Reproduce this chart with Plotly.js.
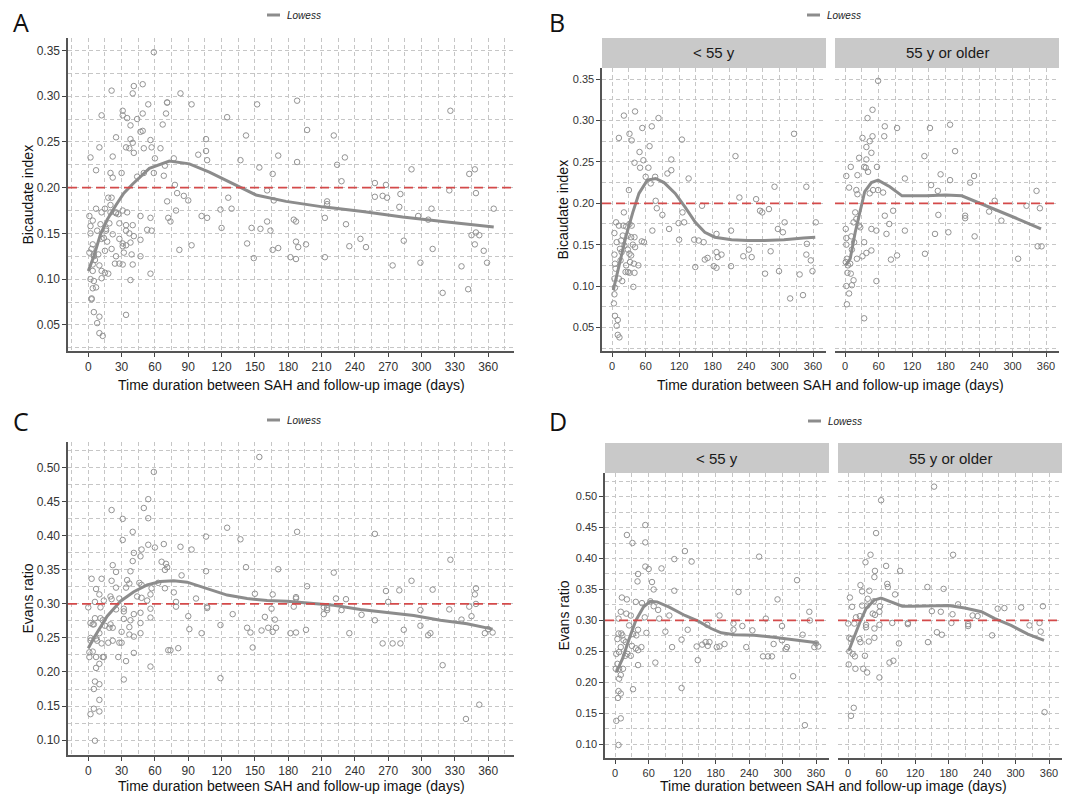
<!DOCTYPE html>
<html><head><meta charset="utf-8">
<script src="https://cdn.plot.ly/plotly-3.0.1.min.js"></script>
<style>html,body{margin:0;padding:0;background:#fff}#chart{width:1072px;height:798px}</style>
</head><body><div id="chart"></div>
<script>
// ---------- DATA ----------
// Bicaudate index, patients < 55 y
const bicYoungDays = [21,41,12,31,35,83,54,71,125,326,49,67,56,40,50,65,106,99,106,60,77,137,221,30,69,291,348,78,80,90,21,126,161,228,258,265,269,281,297,306,309,365,119,129,102,72,120,147,155,164,187,213,349,149,166,171,187,189,196,182,187,213,235,245,250,274,284,299,348,356,359,336,319,342,
7,12,4,8,4,5,6,4,5,4,3,5,10,8,10,13,20,19,16,14,22,25,31,28,34,35,40,37,41,28,31,34,32,39,28,31,40,47,18,38,53,57,15,17,25,24,12];
const bicYoungVals = [.306,.311,.279,.284,.276,.303,.291,.293,.277,.284,.262,.269,.252,.249,.243,.243,.253,.236,.240,.232,.232,.230,.257,.216,.224,.220,.220,.203,.194,.186,.189,.189,.197,.207,.205,.191,.189,.193,.169,.165,.177,.177,.176,.177,.169,.167,.156,.156,.155,.153,.163,.167,.151,.123,.132,.134,.141,.135,.138,.124,.122,.124,.136,.144,.135,.115,.142,.118,.138,.131,.118,.114,.085,.089,
.177,.173,.164,.153,.138,.127,.121,.109,.098,.090,.079,.064,.059,.052,.041,.038,.173,.161,.155,.145,.149,.172,.175,.161,.159,.173,.159,.150,.147,.144,.139,.137,.129,.127,.117,.116,.116,.125,.106,.099,.154,.153,.131,.141,.125,.117,.109];
// Bicaudate index, patients 55 y or older
const bicOldDays = [59,49,40,31,49,71,70,93,152,188,44,38,47,38,25,34,37,41,10,2,22,57,142,197,107,171,154,188,166,231,224,7,20,22,50,59,68,44,343,268,325,349,18,15,20,25,27,71,86,79,74,47,56,107,167,161,185,215,215,232,258,280,345,352,1,2,11,16,2,12,34,47,38,31,21,1,5,9,3,4,10,15,12,7,2,3,34,56,82,93,143,310];
const bicOldVals = [.348,.313,.303,.279,.281,.293,.281,.291,.291,.295,.275,.268,.261,.253,.255,.244,.243,.238,.244,.233,.234,.244,.257,.263,.230,.235,.222,.228,.215,.233,.225,.219,.216,.211,.216,.216,.213,.212,.215,.203,.197,.194,.189,.177,.181,.173,.171,.185,.191,.175,.163,.169,.167,.167,.186,.163,.165,.185,.182,.160,.190,.179,.148,.148,.169,.158,.160,.153,.150,.144,.153,.143,.140,.136,.133,.129,.125,.127,.133,.116,.115,.107,.101,.091,.100,.078,.061,.106,.132,.137,.139,.133];
// Evans ratio, patients < 55 y
const evYoungDays = [54,21,31,54,125,106,137,258,54,60,83,41,40,66,69,326,106,221,291,12,21,37,48,63,69,77,53,10,20,28,97,79,187,348,349,270,6,25,41,32,38,56,90,130,165,212,212,228,246,299,336,6,11,15,10,2,7,30,37,41,28,18,47,102,119,146,156,162,169,166,182,187,196,235,284,299,306,308,265,274,281,357,364,360,148,72,41,4,7,10,7,14,319,32,6,10,5,119,2,10,6,340,4,13,19,22,1];
const evYoungVals = [.454,.438,.425,.426,.412,.399,.395,.403,.387,.383,.384,.375,.363,.362,.350,.365,.348,.346,.334,.337,.334,.330,.328,.331,.323,.317,.305,.314,.311,.308,.308,.303,.308,.314,.300,.303,.303,.292,.285,.278,.276,.280,.282,.285,.293,.295,.285,.291,.284,.291,.277,.279,.279,.268,.257,.246,.249,.259,.255,.252,.243,.243,.257,.257,.269,.258,.261,.265,.265,.259,.257,.258,.262,.257,.262,.268,.254,.257,.242,.242,.242,.257,.258,.263,.236,.232,.228,.230,.222,.212,.206,.222,.210,.189,.186,.182,.175,.191,.138,.142,.099,.131,.270,.276,.265,.246,.222];
// Evans ratio, patients 55 y or older
const evOldDays = [154,59,50,40,188,31,68,48,47,93,22,70,71,142,171,25,38,3,35,46,84,7,25,34,57,150,166,197,268,280,310,349,14,21,0,11,44,48,56,79,107,107,185,187,215,215,223,232,325,343,345,258,2,5,20,22,32,32,47,47,56,37,91,143,159,168,2,8,12,30,1,13,27,34,74,81,56,10,5,352];
const evOldVals = [.516,.494,.441,.406,.406,.394,.388,.380,.370,.380,.357,.359,.354,.354,.351,.347,.348,.337,.335,.331,.342,.322,.324,.324,.323,.315,.314,.326,.319,.320,.321,.323,.305,.307,.295,.295,.311,.309,.314,.296,.296,.294,.296,.310,.294,.291,.308,.307,.292,.296,.282,.276,.272,.270,.270,.265,.289,.293,.287,.272,.293,.266,.263,.265,.281,.277,.250,.246,.242,.243,.229,.222,.222,.216,.232,.235,.208,.159,.146,.152];

// Lowess curves
const lowBicAllDays = [0,5,11,17,25,32,40,55,73,91,109,133,151,178,211,247,283,319,365];
const lowBicAllVals = [0.109,0.125,0.149,0.165,0.181,0.194,0.204,0.221,0.229,0.226,0.217,0.203,0.192,0.185,0.179,0.174,0.168,0.163,0.157];
const lowBicYoungDays = [2,13,25,37,48,63,78,93,113,131,149,166,184,214,243,273,308,343,364];
const lowBicYoungVals = [0.095,0.125,0.161,0.189,0.212,0.228,0.230,0.225,0.212,0.195,0.177,0.165,0.159,0.156,0.155,0.155,0.156,0.158,0.159];
const lowBicOldDays = [1,9,18,27,35,47,59,80,102,145,180,209,239,274,310,351];
const lowBicOldVals = [0.125,0.133,0.165,0.193,0.214,0.225,0.228,0.220,0.209,0.209,0.210,0.209,0.201,0.191,0.181,0.169];
const lowEvAllDays = [0,5,17,29,41,53,65,77,89,107,125,143,161,179,197,221,245,269,293,317,341,364];
const lowEvAllVals = [0.235,0.250,0.282,0.304,0.318,0.328,0.333,0.334,0.332,0.323,0.313,0.308,0.305,0.304,0.301,0.298,0.292,0.288,0.283,0.276,0.271,0.263];
const lowEvYoungDays = [2,13,25,37,51,63,75,96,125,149,172,190,214,249,284,320,355,363];
const lowEvYoungVals = [0.216,0.238,0.270,0.300,0.322,0.331,0.330,0.322,0.308,0.299,0.287,0.280,0.277,0.276,0.273,0.269,0.265,0.263];
const lowEvOldDays = [1,9,21,32,47,59,77,97,115,145,180,209,239,263,292,322,351];
const lowEvOldVals = [0.251,0.270,0.297,0.319,0.333,0.336,0.330,0.323,0.323,0.324,0.324,0.320,0.314,0.303,0.292,0.278,0.268];

// reference thresholds
const bicThreshold = 0.2;
const evThreshold = 0.3;

// ticks and labels
const xTicksWide = [0,30,60,90,120,150,180,210,240,270,300,330,360];
const xTicksFacet = [0,60,120,180,240,300,360];
const yTicksBic = [0.05,0.10,0.15,0.20,0.25,0.30,0.35];
const yTicksEv = [0.10,0.15,0.20,0.25,0.30,0.35,0.40,0.45,0.50];
const facetLabels = ['< 55 y', '55 y or older'];
const panelLetters = ['A','B','C','D'];
const xTitle = 'Time duration between SAH and follow-up image (days)';
const yTitleBic = 'Bicaudate index';
const yTitleEv = 'Evans ratio';
const legendLabel = 'Lowess';

// ---------- STYLE / LAYOUT ----------
const W = 1072, H = 798;
const px = v => v / W;
const py = v => 1 - v / H;
const FONT = 'Liberation Sans, Arial, sans-serif';
const GRID = '#c6c6c6', GDASH = '4px,3px';
const xRange = [-18.25, 383.25];
const yRangeBic = [0.0215, 0.3635];
const yRangeEv = [0.078, 0.538];

function xAxis(dom, anchor, ticks, minorStep, fsize) {
  return {
    domain: [px(dom[0]), px(dom[1])], anchor: anchor, range: xRange,
    tickmode: 'array', tickvals: ticks, ticktext: ticks.map(String),
    ticks: 'outside', ticklen: 4, tickcolor: '#444', tickwidth: 1,
    showline: true, linecolor: '#555', linewidth: 1.6,
    showgrid: true, gridcolor: GRID, griddash: GDASH, gridwidth: 1, zeroline: false,
    minor: {tickmode: 'linear', tick0: 0, dtick: minorStep, showgrid: true, gridcolor: GRID, griddash: GDASH, gridwidth: 1, ticks: ''},
    tickfont: {family: FONT, size: fsize, color: '#333'}, fixedrange: true
  };
}
function yAxis(dom, anchor, ticks, range, showAxis, fsize) {
  return {
    domain: [py(dom[1]), py(dom[0])], anchor: anchor, range: range,
    tickmode: 'array', tickvals: ticks, ticktext: ticks.map(v => v.toFixed(2)),
    ticks: showAxis ? 'outside' : '', ticklen: 4, tickcolor: '#444', tickwidth: 1,
    showticklabels: showAxis,
    showline: showAxis, linecolor: '#555', linewidth: 1.6,
    showgrid: true, gridcolor: GRID, griddash: GDASH, gridwidth: 1, zeroline: false,
    minor: {tickmode: 'linear', tick0: 0, dtick: 0.025, showgrid: true, gridcolor: GRID, griddash: GDASH, gridwidth: 1, ticks: ''},
    tickfont: {family: FONT, size: fsize, color: '#333'}, fixedrange: true
  };
}

const pts = (x, y, ax) => ({
  type: 'scatter', mode: 'markers', x: x, y: y, xaxis: 'x' + ax, yaxis: 'y' + ax,
  marker: {symbol: 'circle-open', size: 5.5, color: '#939393', line: {width: 1, color: '#939393'}},
  showlegend: false, hoverinfo: 'skip'
});
const low = (x, y, ax) => ({
  type: 'scatter', mode: 'lines', x: x, y: y, xaxis: 'x' + ax, yaxis: 'y' + ax,
  line: {color: '#8c8c8c', width: 3}, showlegend: false, hoverinfo: 'skip'
});

const data = [
  pts(bicYoungDays.concat(bicOldDays), bicYoungVals.concat(bicOldVals), ''), low(lowBicAllDays, lowBicAllVals, ''),
  pts(bicYoungDays, bicYoungVals, '2'), low(lowBicYoungDays, lowBicYoungVals, '2'),
  pts(bicOldDays, bicOldVals, '3'), low(lowBicOldDays, lowBicOldVals, '3'),
  pts(evYoungDays.concat(evOldDays), evYoungVals.concat(evOldVals), '4'), low(lowEvAllDays, lowEvAllVals, '4'),
  pts(evYoungDays, evYoungVals, '5'), low(lowEvYoungDays, lowEvYoungVals, '5'),
  pts(evOldDays, evOldVals, '6'), low(lowEvOldDays, lowEvOldVals, '6')
];

// panel geometry in pixels
const A = {x: [68, 514], y: [38, 351]};
const BL = {x: [602, 826], y: [68, 351]}, BR = {x: [835, 1059], y: [68, 351]};
const C = {x: [68, 514], y: [442, 755]};
const DL = {x: [605, 829], y: [473, 758]}, DR = {x: [838, 1062], y: [473, 758]};
const stripB = [38, 68], stripD = [443, 473];

const layout = {
  width: W, height: H, margin: {l: 0, r: 0, t: 0, b: 0},
  paper_bgcolor: '#fff', plot_bgcolor: '#fff', showlegend: false,
  font: {family: FONT, color: '#222'},
  xaxis: xAxis(A.x, 'y', xTicksWide, 15, 12), yaxis: yAxis(A.y, 'x', yTicksBic, yRangeBic, true, 12),
  xaxis2: xAxis(BL.x, 'y2', xTicksFacet, 30, 11), yaxis2: yAxis(BL.y, 'x2', yTicksBic, yRangeBic, true, 11),
  xaxis3: xAxis(BR.x, 'y3', xTicksFacet, 30, 11), yaxis3: yAxis(BR.y, 'x3', yTicksBic, yRangeBic, false, 11),
  xaxis4: xAxis(C.x, 'y4', xTicksWide, 15, 12), yaxis4: yAxis(C.y, 'x4', yTicksEv, yRangeEv, true, 12),
  xaxis5: xAxis(DL.x, 'y5', xTicksFacet, 30, 11), yaxis5: yAxis(DL.y, 'x5', yTicksEv, yRangeEv, true, 11),
  xaxis6: xAxis(DR.x, 'y6', xTicksFacet, 30, 11), yaxis6: yAxis(DR.y, 'x6', yTicksEv, yRangeEv, false, 11),
  shapes: [], annotations: []
};

// threshold lines
[['', bicThreshold], ['2', bicThreshold], ['3', bicThreshold], ['4', evThreshold], ['5', evThreshold], ['6', evThreshold]].forEach(([ax, v]) => {
  layout.shapes.push({type: 'line', layer: 'above', xref: 'x' + ax + ' domain', yref: 'y' + ax, x0: 0, x1: 1, y0: v, y1: v,
    line: {color: '#d44a4a', width: 1.7, dash: '9px,5px'}});
});

// facet strips
[[BL.x, stripB, facetLabels[0]], [BR.x, stripB, facetLabels[1]], [DL.x, stripD, facetLabels[0]], [DR.x, stripD, facetLabels[1]]].forEach(([xs, ys, lab]) => {
  layout.shapes.push({type: 'rect', xref: 'paper', yref: 'paper', x0: px(xs[0]), x1: px(xs[1]), y0: py(ys[1]), y1: py(ys[0]),
    fillcolor: '#c9c9c9', line: {width: 0}, layer: 'below'});
  layout.annotations.push({xref: 'paper', yref: 'paper', x: px((xs[0] + xs[1]) / 2), y: py((ys[0] + ys[1]) / 2),
    text: lab, showarrow: false, xanchor: 'center', yanchor: 'middle', font: {family: FONT, size: 15, color: '#1a1a1a'}});
});

// axis titles
function addTitles(x0, x1, yTop, yBot, ylab, ytitleX, xtitleY) {
  layout.annotations.push({xref: 'paper', yref: 'paper', x: px((x0 + x1) / 2), y: py(xtitleY), text: xTitle, showarrow: false,
    xanchor: 'center', yanchor: 'middle', font: {family: FONT, size: 14, color: '#111'}});
  layout.annotations.push({xref: 'paper', yref: 'paper', x: px(ytitleX), y: py((yTop + yBot) / 2), text: ylab, showarrow: false,
    textangle: -90, xanchor: 'center', yanchor: 'middle', font: {family: FONT, size: 14, color: '#111'}});
}
addTitles(A.x[0], A.x[1], A.y[0], A.y[1], yTitleBic, 27, 385);
addTitles(BL.x[0], BR.x[1], BL.y[0], BL.y[1], yTitleBic, 563, 385);
addTitles(C.x[0], C.x[1], C.y[0], C.y[1], yTitleEv, 27, 786);
addTitles(DL.x[0], DR.x[1], DL.y[0], DL.y[1], yTitleEv, 563, 786);

// legends (Lowess) and panel letters
[[267, 15], [807, 15], [267, 420], [808, 421]].forEach(([lx, ly]) => {
  layout.shapes.push({type: 'line', xref: 'paper', yref: 'paper', x0: px(lx), x1: px(lx + 13), y0: py(ly), y1: py(ly),
    line: {color: '#8c8c8c', width: 3}});
  layout.annotations.push({xref: 'paper', yref: 'paper', x: px(lx + 18), y: py(ly), text: '<i>' + legendLabel + '</i>', showarrow: false,
    xanchor: 'left', yanchor: 'middle', font: {family: FONT, size: 10, color: '#222'}});
});
[[21, 22], [557, 22], [21, 421], [558, 421]].forEach(([lx, ly], i) => {
  layout.annotations.push({xref: 'paper', yref: 'paper', x: px(lx), y: py(ly), text: panelLetters[i], showarrow: false,
    xanchor: 'center', yanchor: 'middle', font: {family: 'Open Sans, Liberation Sans, sans-serif', size: 25, color: '#111'}});
});

Plotly.newPlot('chart', data, layout, {displayModeBar: false, staticPlot: true});
</script></body></html>
